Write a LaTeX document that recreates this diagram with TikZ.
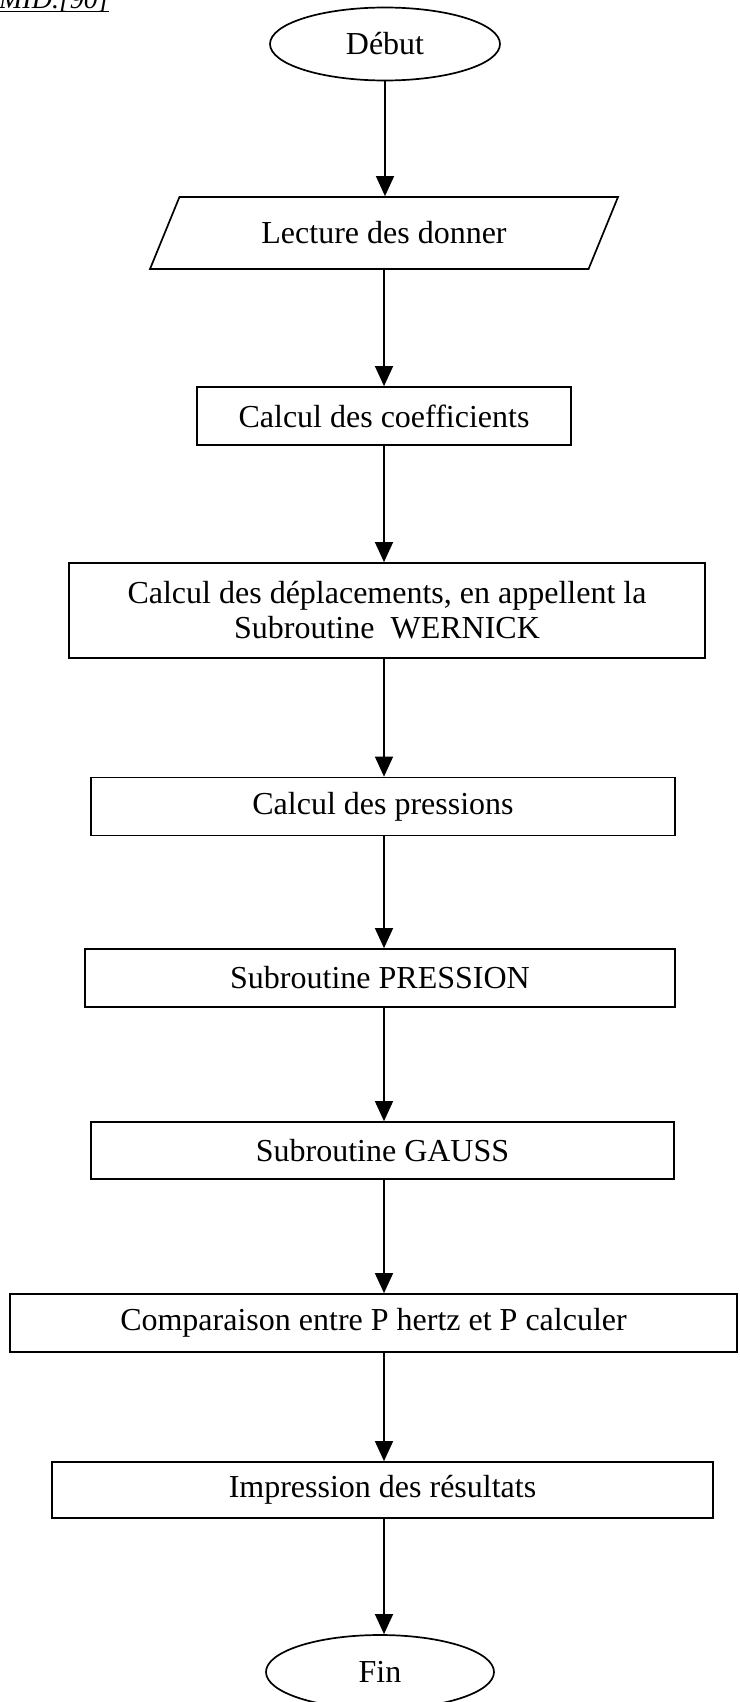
\documentclass[tikz,border=0pt]{standalone}
\usepackage{fontspec}
\setmainfont{Liberation Serif}
\newcommand*{\bodyfont}{\fontsize{32}{35}\selectfont}
\newcommand*{\refline}[1]{\setbox0\hbox{#1}\rlap{\rule[-3pt]{\wd0}{1.3pt}}\box0}
\usetikzlibrary{arrows.meta}
\usetikzlibrary{shapes.geometric}
\tikzstyle{base}=[x=1pt, y=-1pt, line width=1.7pt, font=\bodyfont]
\tikzstyle{terminal}=[draw, ellipse, minimum width=230pt, minimum height=73pt, inner sep=0pt]
\tikzstyle{io}=[draw, trapezium, trapezium left angle=37.4, trapezium right angle=142.6, trapezium stretches body, minimum width=468pt, minimum height=72pt, inner sep=0pt]
\tikzstyle{process}=[draw, rectangle, minimum height=58pt, inner sep=0pt, align=center]
\tikzstyle{flow}=[line width=1.4pt, -{Triangle[length=20pt, width=18pt]}]

\begin{document}
\begin{tikzpicture}[base]
    \useasboundingbox (0,0) rectangle (739,1702);
    % cut reference above the chart
    \node [anchor=base east, font=\fontsize{28}{30}\selectfont\itshape] (ref) at (113,9) {\refline{HAMID.[90]}};
    % steps
    \node [terminal] (debut) at (385,44) {Début};
    \node [io] (lecture) at (384,233) {Lecture des donner};
    \node [process, minimum width=374pt] (coeff) at (384,416) {Calcul des coefficients};
    \node [process, minimum width=636pt, minimum height=95pt] (wernick) at (387,610.5) {Calcul des déplacements, en appellent la\\Subroutine~~WERNICK};
    \node [process, minimum width=584pt] (press) at (383,806.5) {Calcul des pressions};
    \node [process, minimum width=590pt] (pression) at (380,978) {Subroutine PRESSION};
    \node [process, minimum width=583pt, minimum height=57pt] (gauss) at (382.5,1150.5) {Subroutine GAUSS};
    \node [process, minimum width=727pt] (compar) at (373.5,1323) {Comparaison entre P hertz et P calculer};
    \node [process, minimum width=661pt, minimum height=56pt] (impr) at (382.5,1490) {Impression des résultats};
    \node [terminal, minimum width=228pt, minimum height=74pt] (fin) at (380,1672) {Fin};
    % arrows
    \draw [flow] (debut.south) -- (debut.south |- lecture.north);
    \draw [flow] (lecture.south) -- (lecture.south |- coeff.north);
    \draw [flow] (coeff.south) -- (coeff.south |- wernick.north);
    \draw [flow] (wernick.south -| coeff.south) -- (coeff.south |- press.north);
    \draw [flow] (press.south -| coeff.south) -- (coeff.south |- pression.north);
    \draw [flow] (pression.south -| coeff.south) -- (coeff.south |- gauss.north);
    \draw [flow] (gauss.south -| coeff.south) -- (coeff.south |- compar.north);
    \draw [flow] (compar.south -| coeff.south) -- (coeff.south |- impr.north);
    \draw [flow] (impr.south -| coeff.south) -- (coeff.south |- fin.north);
\end{tikzpicture}
\end{document}
